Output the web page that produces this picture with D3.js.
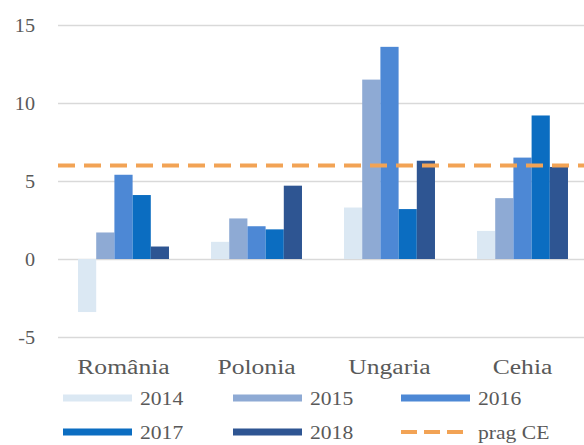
<!DOCTYPE html>
<html>
<head>
<meta charset="utf-8">
<script src="https://cdn.jsdelivr.net/npm/d3@7"></script>
<style>
  html, body { margin: 0; padding: 0; background: #ffffff; }
  svg { display: block; }
</style>
</head>
<body>
<svg id="chart" width="584" height="445"></svg>
<script>
// ---- data ----
const categories = ["România", "Polonia", "Ungaria", "Cehia"];
const years = ["2014", "2015", "2016", "2017", "2018"];
const v2014 = [-3.4, 1.1, 3.3, 1.8];
const v2015 = [1.7, 2.6, 11.5, 3.9];
const v2016 = [5.4, 2.1, 13.6, 6.5];
const v2017 = [4.1, 1.9, 3.2, 9.2];
const v2018 = [0.8, 4.7, 6.3, 5.9];
const thresholdValue = 6;            // prag CE
const thresholdLabel = "prag CE";
const yTicks = [-5, 0, 5, 10, 15];

const seriesValues = [v2014, v2015, v2016, v2017, v2018];
const colors = ["#dbe8f3", "#8eaad4", "#4d88d5", "#0b6dc1", "#2e5592"];
const orange = "#f2a355";
const textColor = "#595959";
const fontFam = "'Liberation Serif', 'Times New Roman', serif";

const svg = d3.select("#chart");
const W = 584;

const y = d3.scaleLinear().domain([-5, 15]).range([337, 25]);
const x0 = d3.scaleBand().domain(categories).range([57, 589])
  .paddingInner(0.316).paddingOuter(0.158);
const x1 = d3.scaleBand().domain(years).range([0, x0.bandwidth()]).padding(0);

// ---- gridlines + y axis ----
const yAxis = d3.axisLeft(y).tickValues(yTicks).tickSize(-(W - 58)).tickPadding(23)
  .tickFormat(d => String(d));
const gAxis = svg.append("g").attr("transform", "translate(58,0)").call(yAxis);
gAxis.select(".domain").remove();
gAxis.selectAll(".tick line").attr("stroke", "#d9d9d9").attr("stroke-width", 1.3);
gAxis.selectAll(".tick text")
  .attr("x", null).attr("dy", null)
  .attr("dominant-baseline", "central")
  .attr("transform", "translate(-23,0) scale(1.12,1)")
  .attr("fill", textColor)
  .style("font-family", fontFam)
  .style("font-size", "18px");

// ---- bars ----
const rows = [];
categories.forEach((c, i) => {
  years.forEach((yr, j) => rows.push({ cat: c, year: yr, value: seriesValues[j][i], idx: j }));
});
svg.append("g").selectAll("rect").data(rows).join("rect")
  .attr("x", d => x0(d.cat) + x1(d.year))
  .attr("width", x1.bandwidth())
  .attr("y", d => y(Math.max(0, d.value)))
  .attr("height", d => Math.abs(y(d.value) - y(0)))
  .attr("fill", d => colors[d.idx]);

// ---- threshold line ----
svg.append("line")
  .attr("x1", 58).attr("x2", W)
  .attr("y1", y(thresholdValue)).attr("y2", y(thresholdValue))
  .attr("stroke", orange).attr("stroke-width", 4)
  .attr("stroke-dasharray", "17,9");

// ---- category labels ----
svg.append("g").selectAll("text").data(categories).join("text")
  .attr("transform", d => `translate(${x0(d) + x0.bandwidth() / 2},374) scale(1.28,1)`)
  .attr("text-anchor", "middle")
  .attr("fill", textColor)
  .style("font-family", fontFam)
  .style("font-size", "20px")
  .text(d => d);

// ---- legend ----
const legendItems = years.map((yr, j) => ({ label: yr, color: colors[j], dashed: false }))
  .concat([{ label: thresholdLabel, color: orange, dashed: true }]);
const colX = [63, 233, 401];
const rowY = [398, 432];
const lg = svg.append("g").selectAll("g").data(legendItems).join("g")
  .attr("transform", (d, i) => `translate(${colX[i % 3]},${rowY[Math.floor(i / 3)]})`);
lg.append("line")
  .attr("x1", 0).attr("x2", 69).attr("y1", 0).attr("y2", 0)
  .attr("stroke", d => d.color)
  .attr("stroke-width", d => d.dashed ? 4 : 7)
  .attr("stroke-dasharray", d => d.dashed ? "16,7" : null);
lg.append("text")
  .attr("transform", "translate(77,1) scale(1.2,1)")
  .attr("dominant-baseline", "central")
  .attr("fill", textColor)
  .style("font-family", fontFam)
  .style("font-size", "18px")
  .text(d => d.label);
</script>
</body>
</html>
